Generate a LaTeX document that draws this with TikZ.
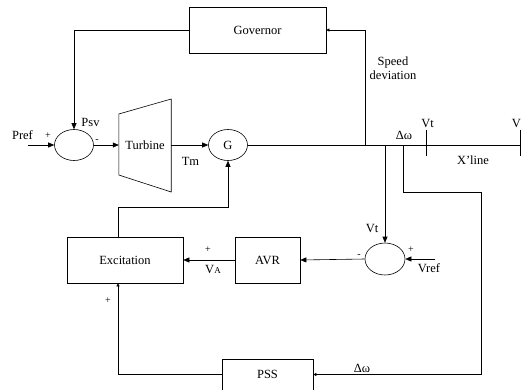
\documentclass[tikz,border=0pt]{standalone}
\usepackage{fontspec}
\setmainfont{Liberation Serif}
\usepackage{tikz}
\usetikzlibrary{shapes.geometric,arrows.meta,calc,positioning}
\newcommand{\BlockFont}{\fontsize{12.5pt}{14pt}\selectfont}
\newcommand{\SignFont}{\fontsize{10pt}{11pt}\selectfont}
\newcommand{\SubFont}{\fontsize{9pt}{10pt}\selectfont}
\tikzset{
  block/.style={
    draw, line width=0.6pt, minimum height=46pt,
    inner sep=0pt, font=\BlockFont
  },
  sumnode/.style={
    draw, ellipse, line width=0.6pt,
    minimum width=39pt, minimum height=31pt, inner sep=0pt
  },
  sig/.style={-{Triangle[length=6pt,width=5pt]}, line width=0.6pt},
  sigsmall/.style={-{Triangle[length=3pt,width=3pt]}, line width=0.6pt},
  lbl/.style={font=\BlockFont, inner sep=0pt},
  sign/.style={font=\SignFont, inner sep=0pt}
}
\begin{document}
\begin{tikzpicture}[x=1pt, y=-1pt]
    \useasboundingbox (0,0) rectangle (522,389);
    % blocks
    \node[block, minimum width=137pt] (gov) at (257.5,30) {Governor};
    \node[sumnode] (sumP) at (74,145) {};
    \node[lbl, minimum width=52pt] (turbine) at (145,145) {Turbine};
    \node[sumnode] (gen) at (228,145) {\BlockFont G};
    \node[block, minimum width=116pt] (exc) at (125,260) {Excitation};
    \node[block, minimum width=65pt] (avr) at (267.5,260) {AVR};
    \node[sumnode, minimum width=40pt, minimum height=32pt] (sumV) at (385,259) {};
    \node[block, minimum width=91pt, minimum height=31pt] (pss) at (267.5,374.5) {PSS};
    \draw[line width=0.6pt, line join=round]
        ($(turbine.west)+(0,-31)$) -- ($(turbine.east)+(0,-46)$)
        -- ($(turbine.east)+(0,47)$) -- ($(turbine.west)+(0,30)$) -- cycle;
    % bus and branch points
    \coordinate (pref) at (28,145);
    \coordinate (busVt) at (426,145);
    \coordinate (busV) at (520,145);
    \coordinate (spd) at (365,145);
    \coordinate (vtb) at (385,145);
    \coordinate (dwb) at (403,145);
    \coordinate (dwc) at (481,192);
    \coordinate (vref) at (435,259);
    \coordinate (exl) at (118,207);
    % signals
    \draw[sig] (gov.west) -| (sumP.north);
    \draw[sig] (pref) -- (sumP.west);
    \draw[sig] (sumP.east) -- (turbine.west);
    \draw[sig] (turbine.east) -- (gen.west);
    \draw[line width=0.6pt] (gen.east) -- (busV);
    \draw[line width=0.6pt] ($(busVt)+(0,-15)$) -- ($(busVt)+(0,11)$);
    \draw[line width=0.6pt] ($(busV)+(0,-15)$) -- ($(busV)+(0,11)$);
    \draw[sigsmall] (spd) |- (gov.east);
    \draw[sig] (vtb) -- (sumV.north);
    \draw[sigsmall] (dwb) -- (dwb |- dwc) -- (dwc) |- (pss.east);
    \draw[sig] (vref) -- (sumV.east);
    \draw[sig] (sumV.west) -- (avr.east);
    \draw[sig] (avr.west) -- (exc.east);
    \draw[sig] (exl |- exc.north) -- (exl) -| (gen.south);
    \draw[sigsmall] (pss.west) -| (exl |- exc.south);
    % labels
    \node[lbl] (lPref) at (22.5,135) {Pref};
    \node[sign] (sPref) at (48,136) {+};
    \node[lbl] (lPsv) at (90.5,122) {Psv};
    \node[sign] (sPsv) at (97,141) {-};
    \node[lbl] (lTm) at (190.5,161) {Tm};
    \node[lbl, align=center] (lSpeed) at (393,68) {Speed\\deviation};
    \node[lbl] (lDwBus) at (404,135) {Δω};
    \node[lbl] (lVtBus) at (427.5,123) {Vt};
    \node[lbl] (lV) at (516.5,123) {V};
    \node[lbl] (lXline) at (473,160) {X’line};
    \node[lbl] (lVt) at (372,228) {Vt};
    \node[sign] (sVref) at (411,250) {+};
    \node[lbl] (lVref) at (429,268) {Vref};
    \node[sign] (sVt) at (359,256) {-};
    \node[sign] (sVA) at (208,250) {+};
    \node[lbl] (lVA) at (213,269) {V{\SubFont A}};
    \node[sign] (sPss) at (108,301) {+};
    \node[lbl] (lDwPss) at (362,368) {Δω};
\end{tikzpicture}
\end{document}
